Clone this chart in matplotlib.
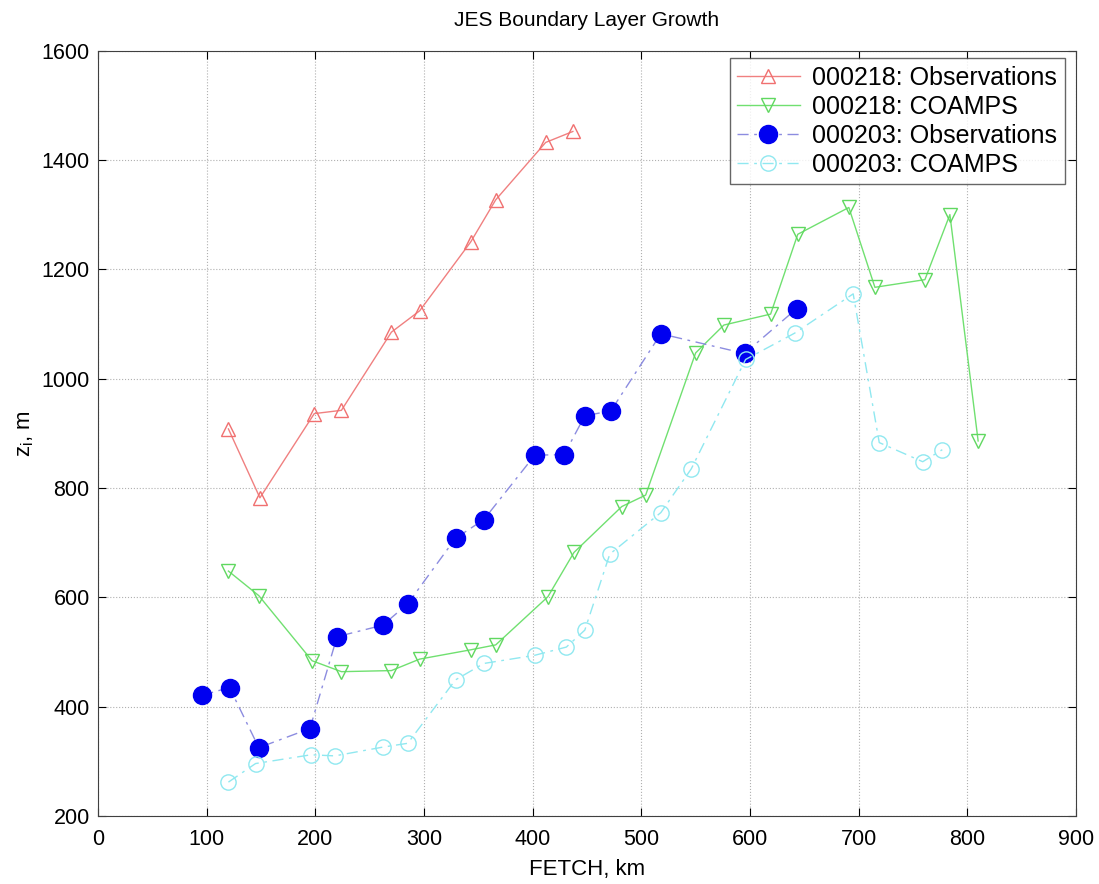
import matplotlib
matplotlib.use("Agg")
import matplotlib.pyplot as plt

plt.rcParams['font.family'] = ['Liberation Sans', 'DejaVu Sans']

# 000218 Observations
obs218_x = [120, 149, 199, 224, 270, 296, 343, 366, 412, 437]
obs218_y = [908, 782, 936, 942, 1085, 1124, 1250, 1327, 1432, 1452]

# 000218 COAMPS
co218_x = [120, 148, 197, 224, 270, 296, 343, 366, 414, 438, 482, 504, 550, 576, 619, 644, 691, 715, 761, 784, 810]
co218_y = [648, 603, 484, 464, 466, 487, 504, 513, 601, 682, 766, 787, 1047, 1098, 1118, 1264, 1313, 1167, 1181, 1300, 886]

# 000203 Observations
obs203_x = [96, 121, 148, 195, 220, 262, 285, 329, 355, 402, 429, 448, 472, 518, 595, 643]
obs203_y = [421, 435, 325, 360, 528, 549, 588, 708, 742, 860, 861, 932, 941, 1082, 1046, 1128]

# 000203 COAMPS
co203_x = [120, 145, 196, 218, 262, 285, 329, 355, 402, 431, 448, 471, 518, 546, 596, 641, 695, 719, 759, 777]
co203_y = [262, 296, 312, 310, 326, 333, 449, 479, 494, 509, 540, 679, 755, 835, 1035, 1083, 1155, 883, 848, 870]

labels = ['000218: Observations', '000218: COAMPS', '000203: Observations', '000203: COAMPS']

fig = plt.figure(figsize=(10.99, 8.84), dpi=100)
ax = fig.add_axes([0.0892, 0.0769, 0.8898, 0.8659])

ax.plot(obs218_x, obs218_y, color='#f08080', lw=1.0, ls='-', marker='^', ms=10,
        mfc='none', mec='#f07070', mew=1.0, label=labels[0])
ax.plot(co218_x, co218_y, color='#70e070', lw=1.0, ls='-', marker='v', ms=10,
        mfc='none', mec='#60d860', mew=1.0, label=labels[1])
ax.plot(obs203_x, obs203_y, color='#8c8ce0', lw=1.0, ls=(0, (8, 4, 2, 4)), marker='o', ms=13,
        mfc='#0000f0', mec='#0000f0', label=labels[2])
ax.plot(co203_x, co203_y, color='#90e8f0', lw=1.0, ls=(0, (8, 4, 2, 4)), marker='o', ms=11,
        mfc='none', mec='#90e8f0', mew=1.0, label=labels[3])

ax.set_xlim(0, 900)
ax.set_ylim(200, 1600)
ax.set_xticks(range(0, 901, 100))
ax.set_yticks(range(200, 1601, 200))
ax.grid(True, ls=':', color='#b0b0b0', lw=0.8)
ax.tick_params(axis='both', labelsize=15.5, direction='in', length=6, top=True, right=True)
ax.tick_params(axis='x', pad=9)
ax.tick_params(axis='y', pad=6)
for s in ax.spines.values():
    s.set_color('#404040')

ax.set_title('JES Boundary Layer Growth', fontsize=15, pad=18)
ax.set_xlabel('FETCH, km', fontsize=16, labelpad=7)
ax.set_ylabel('z$_\\mathregular{i}$, m', fontsize=16, labelpad=4)

leg = ax.legend(loc='upper right', bbox_to_anchor=(0.9885, 0.99), fontsize=18, frameon=True,
                fancybox=False, edgecolor='#404040', borderaxespad=0.0, handlelength=2.5,
                labelspacing=0.2, borderpad=0.3, handletextpad=0.5)
leg.get_frame().set_linewidth(1.0)

fig.savefig('out.png', dpi=100)
